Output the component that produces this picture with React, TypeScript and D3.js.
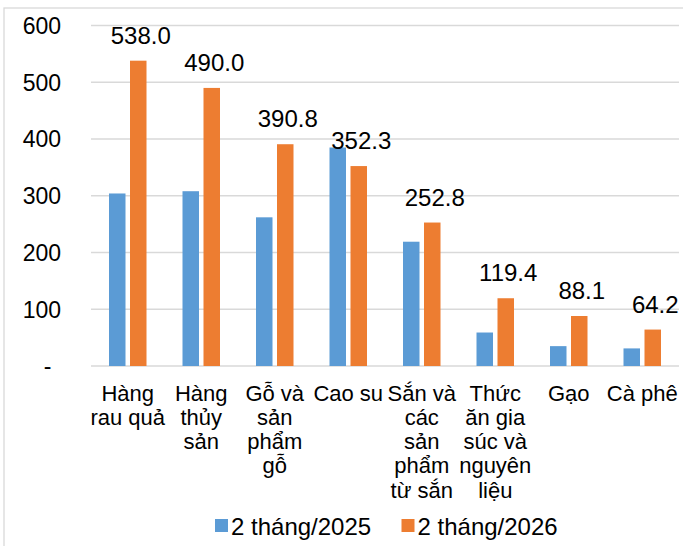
import React from "react";
import * as d3 from "d3";

const categories: string[][] = [
  ["Hàng", "rau quả"],
  ["Hàng", "thủy", "sản"],
  ["Gỗ và", "sản", "phẩm", "gỗ"],
  ["Cao su"],
  ["Sắn và", "các", "sản", "phẩm", "từ sắn"],
  ["Thức", "ăn gia", "súc và", "nguyên", "liệu"],
  ["Gạo"],
  ["Cà phê"],
];
const seriesNames = ["2 tháng/2025", "2 tháng/2026"];
const values2025 = [304, 308, 262, 385, 219, 59, 35, 31];
const values2026 = [538.0, 490.0, 390.8, 352.3, 252.8, 119.4, 88.1, 64.2];
const yTicks = [0, 100, 200, 300, 400, 500, 600];
const colors = ["#5B9BD5", "#ED7D31"];

const W = 683;
const H = 546;
const font = "'Liberation Sans', Arial, sans-serif";

export default function App() {
  const left = 91;
  const right = 679;
  const y = d3.scaleLinear().domain([0, 600]).range([366, 25.5]);
  const keys = categories.map((_, i) => String(i));
  const x0 = d3.scaleBand<string>().domain(keys).range([left, right]).padding(0);
  const x1 = d3
    .scaleBand<string>()
    .domain(seriesNames)
    .range([-18.75, 18.75])
    .paddingInner(0.2143);
  const series = [values2025, values2026];

  return (
    <svg
      width={W}
      height={H}
      style={{ position: "absolute", left: 0, top: 0, display: "block", background: "#fff" }}
      fontFamily={font}
    >
      <rect x={4} y={8} width={W + 10} height={H + 10} fill="#fff" stroke="#D9D9D9" strokeWidth={1.3} />
      {yTicks.map((t) => (
        <g key={t}>
          <line x1={left} x2={right} y1={y(t)} y2={y(t)} stroke="#D9D9D9" strokeWidth={1.3} />
          <text
            x={t === 0 ? 47.5 : 61}
            y={y(t)}
            dy="0.36em"
            fontSize={23}
            textAnchor={t === 0 ? "middle" : "end"}
            fill="#000"
          >
            {t === 0 ? "-" : String(t)}
          </text>
        </g>
      ))}
      {keys.map((k, i) => {
        const cx = (x0(k) as number) + x0.bandwidth() / 2;
        return (
          <g key={k}>
            {series.map((vals, s) => {
              const bx = cx + (x1(seriesNames[s]) as number);
              return (
                <rect
                  key={s}
                  x={bx}
                  y={y(vals[i])}
                  width={x1.bandwidth()}
                  height={y(0) - y(vals[i])}
                  fill={colors[s]}
                />
              );
            })}
            <text
              x={cx + (x1(seriesNames[1]) as number) + x1.bandwidth() / 2 + 2.5}
              y={y(values2026[i]) - 17}
              fontSize={24}
              textAnchor="middle"
              fill="#000"
            >
              {values2026[i].toFixed(1)}
            </text>
            {categories[i].map((line, li) => (
              <text
                key={li}
                x={cx}
                y={400.5 + li * 24.3}
                fontSize={22}
                textAnchor="middle"
                fill="#000"
              >
                {line}
              </text>
            ))}
          </g>
        );
      })}
      {seriesNames.map((name, s) => {
        const lx = s === 0 ? 215 : 401.5;
        return (
          <g key={name}>
            <rect x={lx} y={519} width={13} height={13} fill={colors[s]} />
            <text x={lx + 16} y={535} fontSize={24} fill="#000">
              {name}
            </text>
          </g>
        );
      })}
    </svg>
  );
}
